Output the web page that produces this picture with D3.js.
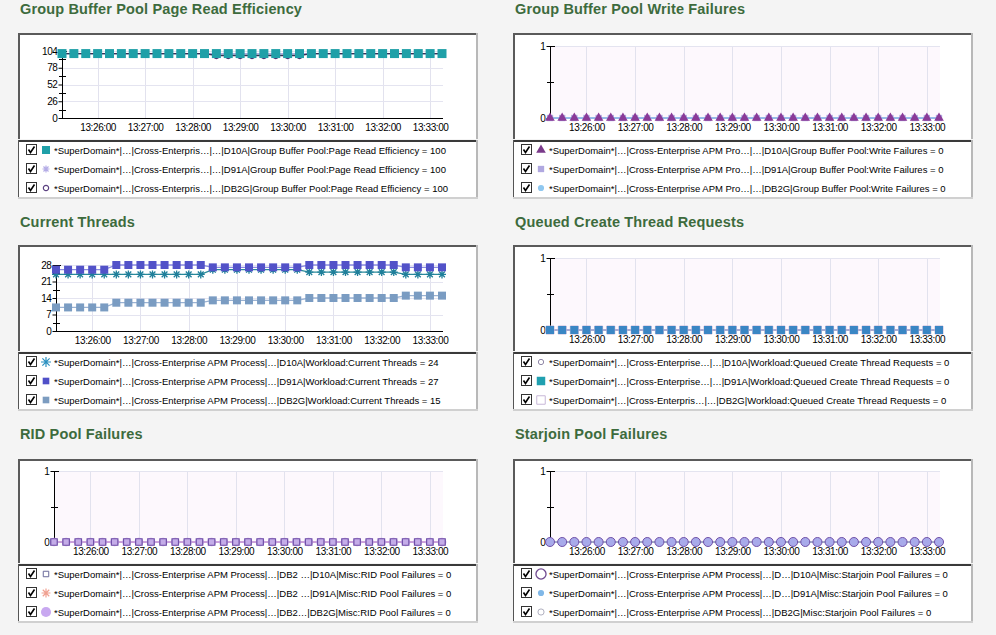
<!DOCTYPE html>
<html><head><meta charset="utf-8">
<script src="https://cdn.jsdelivr.net/npm/d3@7"></script>
<style>body{margin:0;background:#f4f4f4;} svg{display:block;}</style>
</head><body><svg id="c" width="996" height="635"></svg>
<script>
// ---------- DATA ----------
const times = ["13:25:15","13:25:30","13:25:45","13:26:00","13:26:15","13:26:30","13:26:45","13:27:00",
  "13:27:15","13:27:30","13:27:45","13:28:00","13:28:15","13:28:30","13:28:45","13:29:00",
  "13:29:15","13:29:30","13:29:45","13:30:00","13:30:15","13:30:30","13:30:45","13:31:00",
  "13:31:15","13:31:30","13:31:45","13:32:00","13:32:15","13:32:30","13:32:45","13:33:00","13:33:15"];
const xTickLabels = ["13:26:00","13:27:00","13:28:00","13:29:00","13:30:00","13:31:00","13:32:00","13:33:00"];
const titles = ["Group Buffer Pool Page Read Efficiency","Group Buffer Pool Write Failures","Current Threads",
  "Queued Create Thread Requests","RID Pool Failures","Starjoin Pool Failures"];

const pageReadD10A = [100,100,100,100,100,100,100,100,100,100,100,100,100,100,100,100,100,100,100,100,100,100,100,100,100,100,100,100,100,100,100,100,100];
const pageReadD91A = [100,100,100,100,100,100,100,100,100,100,100,100,100,100,100,100,100,100,100,100,100,100,100,100,100,100,100,100,100,100,100,100,100];
const pageReadDB2G = [100,100,100,100,100,100,100,100,100,100,100,100,100,97,97,97,97,97,97,97,97,100,100,100,100,100,100,100,100,100,100,100,100];

const writeFailD10A = [0,0,0,0,0,0,0,0,0,0,0,0,0,0,0,0,0,0,0,0,0,0,0,0,0,0,0,0,0,0,0,0,0];
const writeFailD91A = [0,0,0,0,0,0,0,0,0,0,0,0,0,0,0,0,0,0,0,0,0,0,0,0,0,0,0,0,0,0,0,0,0];
const writeFailDB2G = [0,0,0,0,0,0,0,0,0,0,0,0,0,0,0,0,0,0,0,0,0,0,0,0,0,0,0,0,0,0,0,0,0];

const threadsD10A = [24,24,24,24,24,24,24,24,24,24,24,24,24,26,26,26,26,26,26,26,26,25,25,25,25,25,25,25,25,24,24,24,24];
const threadsD91A = [26,26,26,26,26,28,28,28,28,28,28,28,28,27,27,27,27,27,27,27,27,28,28,28,28,28,28,28,28,27,27,27,27];
const threadsDB2G = [10,10,10,10,10,12,12,12,12,12,12,12,12,13,13,13,13,13,13,13,13,14,14,14,14,14,14,14,14,15,15,15,15];

const queuedD10A = [0,0,0,0,0,0,0,0,0,0,0,0,0,0,0,0,0,0,0,0,0,0,0,0,0,0,0,0,0,0,0,0,0];
const queuedD91A = [0,0,0,0,0,0,0,0,0,0,0,0,0,0,0,0,0,0,0,0,0,0,0,0,0,0,0,0,0,0,0,0,0];
const queuedDB2G = [0,0,0,0,0,0,0,0,0,0,0,0,0,0,0,0,0,0,0,0,0,0,0,0,0,0,0,0,0,0,0,0,0];

const ridD10A = [0,0,0,0,0,0,0,0,0,0,0,0,0,0,0,0,0,0,0,0,0,0,0,0,0,0,0,0,0,0,0,0,0];
const ridD91A = [0,0,0,0,0,0,0,0,0,0,0,0,0,0,0,0,0,0,0,0,0,0,0,0,0,0,0,0,0,0,0,0,0];
const ridDB2G = [0,0,0,0,0,0,0,0,0,0,0,0,0,0,0,0,0,0,0,0,0,0,0,0,0,0,0,0,0,0,0,0,0];

const starjoinD10A = [0,0,0,0,0,0,0,0,0,0,0,0,0,0,0,0,0,0,0,0,0,0,0,0,0,0,0,0,0,0,0,0,0];
const starjoinD91A = [0,0,0,0,0,0,0,0,0,0,0,0,0,0,0,0,0,0,0,0,0,0,0,0,0,0,0,0,0,0,0,0,0];
const starjoinDB2G = [0,0,0,0,0,0,0,0,0,0,0,0,0,0,0,0,0,0,0,0,0,0,0,0,0,0,0,0,0,0,0,0,0];

const yTicksPageRead = [0,26,52,78,104];
const yTicksThreads = [0,7,14,21,28];
const yTicksCount = [0,1];

const legendPageRead = ["*SuperDomain*|…|Cross-Enterpris…|…|D10A|Group Buffer Pool:Page Read Efficiency",
  "*SuperDomain*|…|Cross-Enterpris…|…|D91A|Group Buffer Pool:Page Read Efficiency",
  "*SuperDomain*|…|Cross-Enterpris…|…|DB2G|Group Buffer Pool:Page Read Efficiency"];
const legendWriteFail = ["*SuperDomain*|…|Cross-Enterprise APM Pro…|…|D10A|Group Buffer Pool:Write Failures",
  "*SuperDomain*|…|Cross-Enterprise APM Pro…|…|D91A|Group Buffer Pool:Write Failures",
  "*SuperDomain*|…|Cross-Enterprise APM Pro…|…|DB2G|Group Buffer Pool:Write Failures"];
const legendThreads = ["*SuperDomain*|…|Cross-Enterprise APM Process|…|D10A|Workload:Current Threads",
  "*SuperDomain*|…|Cross-Enterprise APM Process|…|D91A|Workload:Current Threads",
  "*SuperDomain*|…|Cross-Enterprise APM Process|…|DB2G|Workload:Current Threads"];
const legendQueued = ["*SuperDomain*|…|Cross-Enterprise…|…|D10A|Workload:Queued Create Thread Requests",
  "*SuperDomain*|…|Cross-Enterprise…|…|D91A|Workload:Queued Create Thread Requests",
  "*SuperDomain*|…|Cross-Enterpris…|…|DB2G|Workload:Queued Create Thread Requests"];
const legendRid = ["*SuperDomain*|…|Cross-Enterprise APM Process|…|DB2 …|D10A|Misc:RID Pool Failures",
  "*SuperDomain*|…|Cross-Enterprise APM Process|…|DB2 …|D91A|Misc:RID Pool Failures",
  "*SuperDomain*|…|Cross-Enterprise APM Process|…|DB2…|DB2G|Misc:RID Pool Failures"];
const legendStarjoin = ["*SuperDomain*|…|Cross-Enterprise APM Process|…|D…|D10A|Misc:Starjoin Pool Failures",
  "*SuperDomain*|…|Cross-Enterprise APM Process|…|D…|D91A|Misc:Starjoin Pool Failures",
  "*SuperDomain*|…|Cross-Enterprise APM Process|…|DB2G|Misc:Starjoin Pool Failures"];

// ---------- RENDER ----------
const svg = d3.select("#c");
const FONT = "'Liberation Sans', Arial, sans-serif";
const parse = d3.timeParse("%H:%M:%S");
const tDates = times.map(parse);
const tickDates = xTickLabels.map(parse);

const asterisk = { draw(ctx, size) { const r = Math.sqrt(size) / 2;
  ctx.moveTo(0, -r); ctx.lineTo(0, r); ctx.moveTo(-r, 0); ctx.lineTo(r, 0);
  const d = r * 0.72; ctx.moveTo(-d, -d); ctx.lineTo(d, d); ctx.moveTo(-d, d); ctx.lineTo(d, -d); } };
const shapes = { square: d3.symbolSquare, circle: d3.symbolCircle, triangle: d3.symbolTriangle, asterisk };

function marker(g, st, x, y, size) {
  const p = g.append("path").attr("transform", `translate(${x},${y})`)
    .attr("d", d3.symbol().type(shapes[st.shape]).size(size)());
  if (st.shape === "asterisk") p.attr("fill", "none").attr("stroke", st.fill).attr("stroke-width", st.sw || 1.2);
  else p.attr("fill", st.fill).attr("stroke", st.stroke || "none").attr("stroke-width", st.sw || 1);
  return p;
}

function panel(cfg) {
  const g = svg.append("g");
  const bx = cfg.bx, by = cfg.by, bw = 460, bh = cfg.bh;
  g.append("text").attr("x", bx + 2).attr("y", cfg.titleY).text(cfg.title)
    .attr("font-family", FONT).attr("font-weight", "bold").attr("font-size", 14.5)
    .attr("letter-spacing", "0.15px").attr("fill", "#3d6b3d");
  // chart box
  g.append("rect").attr("x", bx).attr("y", by).attr("width", bw).attr("height", bh).attr("fill", "#fff");
  g.append("line").attr("x1", bx).attr("x2", bx + bw).attr("y1", by + 1).attr("y2", by + 1).attr("stroke", "#5a5a5a").attr("stroke-width", 2);
  g.append("line").attr("x1", bx + 1).attr("x2", bx + 1).attr("y1", by).attr("y2", by + bh).attr("stroke", "#5a5a5a").attr("stroke-width", 2);
  g.append("line").attr("x1", bx + bw - 1).attr("x2", bx + bw - 1).attr("y1", by).attr("y2", by + bh).attr("stroke", "#b8b8b8").attr("stroke-width", 2);
  // legend box
  const ly = by + bh + 1, lh = 59;
  g.append("rect").attr("x", bx).attr("y", ly).attr("width", bw).attr("height", lh).attr("fill", "#fff");
  g.append("line").attr("x1", bx).attr("x2", bx + bw).attr("y1", ly + 1).attr("y2", ly + 1).attr("stroke", "#3a3a3a").attr("stroke-width", 2);
  g.append("line").attr("x1", bx + 0.5).attr("x2", bx + 0.5).attr("y1", ly).attr("y2", ly + lh).attr("stroke", "#555").attr("stroke-width", 1);
  g.append("line").attr("x1", bx + bw - 1).attr("x2", bx + bw - 1).attr("y1", ly).attr("y2", ly + lh).attr("stroke", "#b8b8b8").attr("stroke-width", 2);
  g.append("line").attr("x1", bx).attr("x2", bx + bw).attr("y1", ly + lh - 1).attr("y2", ly + lh - 1).attr("stroke", "#d0d0d0").attr("stroke-width", 2);

  const x = d3.scaleTime().domain([tDates[0], tDates[tDates.length - 1]]).range([cfg.ax, cfg.right]);
  const y = d3.scaleLinear().domain([0, d3.max(cfg.ticks)]).range([cfg.bottom, cfg.top]);
  g.append("rect").attr("x", cfg.ax).attr("y", cfg.top).attr("width", cfg.right + 1 - cfg.ax)
    .attr("height", cfg.bottom - cfg.top).attr("fill", cfg.bg);
  // grid
  g.append("g").selectAll("line").data(tickDates).join("line")
    .attr("x1", d => Math.round(x(d)) + 0.5).attr("x2", d => Math.round(x(d)) + 0.5)
    .attr("y1", cfg.top).attr("y2", cfg.bottom).attr("stroke", "#e2e2ee");
  g.append("g").selectAll("line").data(cfg.ticks.slice(1)).join("line")
    .attr("x1", cfg.ax).attr("x2", cfg.right + 1)
    .attr("y1", d => Math.round(y(d)) + 0.5).attr("y2", d => Math.round(y(d)) + 0.5).attr("stroke", "#e4e4f0");
  // x axis
  const xa = g.append("g").attr("transform", `translate(0,${cfg.bottom + 0.5})`)
    .call(d3.axisBottom(x).tickValues(tickDates).tickFormat(d3.timeFormat("%H:%M:%S")).tickSize(0).tickPadding(5));
  xa.select(".domain").remove();
  xa.selectAll("text").attr("font-family", FONT).attr("font-size", 10).attr("letter-spacing", "-0.4px").attr("fill", "#000");
  g.append("line").attr("x1", cfg.ax).attr("x2", cfg.right + 1).attr("y1", cfg.bottom + 0.5).attr("y2", cfg.bottom + 0.5).attr("stroke", "#000");
  // y axis
  const ya = g.append("g").attr("transform", `translate(${cfg.ax + 0.5},0)`)
    .call(d3.axisLeft(y).tickValues(cfg.ticks).tickFormat(d3.format("d")).tickSize(4).tickPadding(1));
  ya.select(".domain").remove();
  ya.selectAll("text").attr("font-family", FONT).attr("font-size", 10).attr("letter-spacing", "-0.4px").attr("fill", "#000");
  const minors = cfg.ticks.slice(1).map((t, i) => (t + cfg.ticks[i]) / 2);
  g.append("g").selectAll("line").data(minors).join("line")
    .attr("x1", cfg.ax - 3).attr("x2", cfg.ax + 4)
    .attr("y1", d => Math.round(y(d)) + 0.5).attr("y2", d => Math.round(y(d)) + 0.5).attr("stroke", "#000");
  g.append("line").attr("x1", cfg.ax + 0.5).attr("x2", cfg.ax + 0.5).attr("y1", cfg.top).attr("y2", cfg.bottom + 1).attr("stroke", "#000");
  g.append("line").attr("x1", cfg.ax).attr("x2", cfg.ax + 5).attr("y1", Math.round(y(d3.max(cfg.ticks))) + 0.5).attr("y2", Math.round(y(d3.max(cfg.ticks))) + 0.5).attr("stroke", "#000");

  // series lines
  const line = d3.line().x((d, i) => x(tDates[i])).y(d => y(d));
  cfg.series.forEach(s => {
    g.append("path").datum(s.values).attr("d", line).attr("fill", "none")
      .attr("stroke", s.line).attr("stroke-width", 1.3);
  });
  // markers (drawn in given draw order)
  cfg.drawOrder.forEach(k => {
    const s = cfg.series[k];
    s.values.forEach((v, i) => marker(g, s, x(tDates[i]), y(v), s.size));
  });

  // legend
  cfg.series.forEach((s, i) => {
    const cy = ly + 10 + i * 19;
    const cx = bx + 8;
    g.append("rect").attr("x", cx + 0.5).attr("y", cy - 5.5).attr("width", 10).attr("height", 10)
      .attr("fill", "#fff").attr("stroke", "#333");
    g.append("path").attr("d", `M${cx + 2.5},${cy - 0.5} L${cx + 4.5},${cy + 2.5} L${cx + 8.5},${cy - 3.5}`)
      .attr("fill", "none").attr("stroke", "#000").attr("stroke-width", 1.6);
    marker(g, s.leg || s, bx + 28, cy, (s.leg || s).lsize || 40);
    g.append("text").attr("x", bx + 36).attr("y", cy + 3.5)
      .text(cfg.labels[i] + " = " + s.values[s.values.length - 1])
      .attr("font-family", FONT).attr("font-size", 9.5).attr("fill", "#000");
  });
}

const pink = "#fdf8fd";
panel({ title: titles[0], bx: 18, by: 33, bh: 106, titleY: 14, ax: 62, right: 442, top: 51, bottom: 118,
  ticks: yTicksPageRead, bg: "#fff", labels: legendPageRead, drawOrder: [2, 1, 0],
  series: [
    { values: pageReadD10A, shape: "square", fill: "#1fa0a8", line: "#1c8a90", size: 81, leg: { shape: "square", fill: "#1fa0a8", lsize: 64 } },
    { values: pageReadD91A, shape: "asterisk", fill: "#b4ace6", line: "#b0a8e0", size: 50, leg: { shape: "asterisk", fill: "#b4ace6", lsize: 49 } },
    { values: pageReadDB2G, shape: "circle", fill: "none", stroke: "#4a2f6e", sw: 1.2, line: "#3a2e55", size: 30, leg: { shape: "circle", fill: "none", stroke: "#5a3f80", sw: 1.2, lsize: 22 } }
  ] });
panel({ title: titles[1], bx: 513, by: 33, bh: 106, titleY: 14, ax: 550, right: 939, top: 46, bottom: 118,
  ticks: yTicksCount, bg: pink, labels: legendWriteFail, drawOrder: [2, 1, 0],
  series: [
    { values: writeFailD10A, shape: "triangle", fill: "#8a3a98", line: "#7a2a8a", size: 40, leg: { shape: "triangle", fill: "#7a3a8a", lsize: 40 } },
    { values: writeFailD91A, shape: "square", fill: "#b0a8e0", line: "#b0a8e0", size: 40, leg: { shape: "square", fill: "#b0a8e0", lsize: 40 } },
    { values: writeFailDB2G, shape: "circle", fill: "#90c8f0", line: "#90c8f0", size: 30, leg: { shape: "circle", fill: "#90c8f0", lsize: 30 } }
  ] });
panel({ title: titles[2], bx: 18, by: 245, bh: 106, titleY: 227, ax: 56, right: 442, top: 265, bottom: 331,
  ticks: yTicksThreads, bg: "#fff", labels: legendThreads, drawOrder: [2, 0, 1],
  series: [
    { values: threadsD10A, shape: "asterisk", fill: "#1f7f9a", sw: 1.3, line: "#2a8a9a", size: 64, leg: { shape: "asterisk", fill: "#2a90c0", lsize: 100 } },
    { values: threadsD91A, shape: "square", fill: "#5252c8", line: "#8c8ce0", size: 64, leg: { shape: "square", fill: "#5050c8", lsize: 44 } },
    { values: threadsDB2G, shape: "square", fill: "#7a9cc2", line: "#9ab2d2", size: 64, leg: { shape: "square", fill: "#7c9cc0", lsize: 44 } }
  ] });
panel({ title: titles[3], bx: 513, by: 245, bh: 106, titleY: 227, ax: 550, right: 939, top: 258, bottom: 330,
  ticks: yTicksCount, bg: pink, labels: legendQueued, drawOrder: [0, 2, 1],
  series: [
    { values: queuedD10A, shape: "circle", fill: "none", stroke: "#9088a8", line: "#9088a8", size: 20, leg: { shape: "circle", fill: "none", stroke: "#9088a8", lsize: 22 } },
    { values: queuedD91A, shape: "square", fill: "#3a86c4", line: "#3a86c4", size: 64, leg: { shape: "square", fill: "#20a0b0", lsize: 72 } },
    { values: queuedDB2G, shape: "square", fill: "none", stroke: "#c8b8d8", line: "#c8b8d8", size: 64, leg: { shape: "square", fill: "#fff", stroke: "#c8b8d8", lsize: 72 } }
  ] });
panel({ title: titles[4], bx: 18, by: 459, bh: 104, titleY: 439, ax: 54, right: 442, top: 471, bottom: 542,
  ticks: yTicksCount, bg: pink, labels: legendRid, drawOrder: [2, 1, 0],
  series: [
    { values: ridD10A, shape: "square", fill: "#c4ace8", stroke: "#7050a8", sw: 1.2, line: "#7050a8", size: 42, leg: { shape: "square", fill: "#fff", stroke: "#6a6a9a", lsize: 30 } },
    { values: ridD91A, shape: "asterisk", fill: "#f0a090", line: "#f0a090", size: 50, leg: { shape: "asterisk", fill: "#f0a090", lsize: 80 } },
    { values: ridDB2G, shape: "circle", fill: "#c8a8f0", line: "#c8a8f0", size: 60, leg: { shape: "circle", fill: "#c8a8f0", lsize: 80 } }
  ] });
panel({ title: titles[5], bx: 513, by: 459, bh: 104, titleY: 439, ax: 550, right: 939, top: 471, bottom: 542,
  ticks: yTicksCount, bg: pink, labels: legendStarjoin, drawOrder: [2, 1, 0],
  series: [
    { values: starjoinD10A, shape: "circle", fill: "#a8aaea", stroke: "#7050a8", sw: 1, line: "#7050a8", size: 64, leg: { shape: "circle", fill: "#fff", stroke: "#704a90", sw: 1.3, lsize: 80 } },
    { values: starjoinD91A, shape: "circle", fill: "#80b8e8", line: "#80b8e8", size: 30, leg: { shape: "circle", fill: "#80b8e8", lsize: 30 } },
    { values: starjoinDB2G, shape: "circle", fill: "none", stroke: "#b0b0c0", line: "#b0b0c0", size: 30, leg: { shape: "circle", fill: "#fff", stroke: "#b0b0c0", lsize: 30 } }
  ] });
</script></body></html>
